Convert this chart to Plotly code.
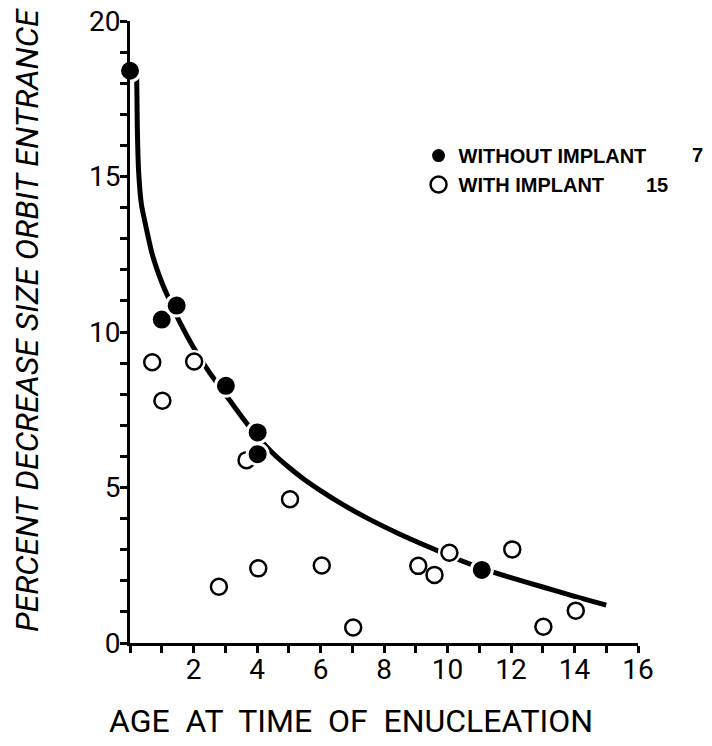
import plotly.graph_objects as go

# ---- data ----
without_x = [0.0, 1.0, 1.47, 3.02, 4.02, 4.02, 11.08]
without_y = [18.4, 10.4, 10.85, 8.27, 6.77, 6.07, 2.35]

with_x = [0.70, 1.02, 2.02, 3.67, 5.04, 2.80, 4.04, 6.04, 7.03, 9.08, 9.59, 10.06, 12.04, 13.02, 14.04]
with_y = [9.03, 7.79, 9.05, 5.88, 4.62, 1.81, 2.40, 2.49, 0.50, 2.48, 2.19, 2.90, 3.01, 0.52, 1.04]

curve_x = [0.21, 0.23, 0.27, 0.36, 0.50, 0.70, 1.00, 1.30, 1.60, 2.00, 2.50, 3.00, 3.50, 4.00,
           4.50, 5.00, 5.50, 6.00, 6.72, 7.50, 8.50, 9.50, 10.30, 11.08, 12.00, 13.00, 14.00, 15.00]
curve_y = [18.30, 16.60, 15.20, 14.10, 13.40, 12.50, 11.60, 10.90, 10.25, 9.50, 8.70, 8.00, 7.30, 6.65,
           6.10, 5.65, 5.25, 4.90, 4.44, 4.00, 3.50, 3.05, 2.70, 2.40, 2.10, 1.80, 1.50, 1.22]

x_ticks = list(range(0, 17))
x_ticktext = ["" if (v == 0 or v % 2) else str(v) for v in x_ticks]
y_ticks = list(range(0, 21))
y_ticktext = [str(v) if v % 5 == 0 else "" for v in y_ticks]

labels = ["WITHOUT IMPLANT", "WITH IMPLANT"]

FONT = "Roboto, Liberation Sans, Arial, sans-serif"
BOLD = "Liberation Sans, Arial, sans-serif"

fig = go.Figure()

fig.add_trace(go.Scatter(x=curve_x, y=curve_y, mode="lines",
                         line=dict(color="black", width=5, shape="spline", smoothing=0.6),
                         showlegend=False, hoverinfo="skip", cliponaxis=False))

# white halo behind open circles
fig.add_trace(go.Scatter(x=with_x, y=with_y, mode="markers",
                         marker=dict(size=23, color="white", line=dict(width=0)),
                         showlegend=False, hoverinfo="skip", cliponaxis=False))

fig.add_trace(go.Scatter(x=with_x, y=with_y, mode="markers", name=labels[1], legendrank=2,
                         marker=dict(size=16, color="white", symbol="circle",
                                     line=dict(color="black", width=2.5)),
                         cliponaxis=False))

fig.add_trace(go.Scatter(x=without_x, y=without_y, mode="markers", name=labels[0], legendrank=1,
                         marker=dict(size=21, color="black", symbol="circle",
                                     line=dict(color="white", width=3)),
                         cliponaxis=False))

axis_common = dict(showline=True, linecolor="black", linewidth=3, ticks="outside",
                   ticklen=7, tickwidth=2.5, tickcolor="black", showgrid=False,
                   zeroline=False, automargin=False,
                   tickfont=dict(family=FONT, size=28, color="black"))

fig.update_xaxes(range=[0, 16], tickvals=x_ticks, ticktext=x_ticktext,
                 ticklabelstandoff=-8, **axis_common)
fig.update_yaxes(range=[0, 20], tickvals=y_ticks, ticktext=y_ticktext,
                 ticklabelstandoff=-6, **axis_common)

fig.update_layout(
    width=712, height=746,
    margin=dict(l=130, r=74, t=21, b=103, autoexpand=False),
    plot_bgcolor="white", paper_bgcolor="white",
    showlegend=True,
    legend=dict(x=0.568, y=0.815, xanchor="left", yanchor="top",
                bgcolor="rgba(0,0,0,0)",
                font=dict(family=BOLD, size=20, color="black", weight="bold"),
                tracegroupgap=0, itemwidth=30),
    annotations=[
        dict(text="PERCENT DECREASE SIZE ORBIT ENTRANCE", xref="paper", yref="paper",
             x=(27 - 130) / 508, y=(643 - 320) / 622, xanchor="center", yanchor="middle",
             textangle=-90, showarrow=False,
             font=dict(family=FONT, size=32, color="black", style="italic")),
        dict(text="AGE  AT  TIME  OF  ENUCLEATION", xref="paper", yref="paper",
             x=(351 - 130) / 508, y=(643 - 721) / 622, xanchor="center", yanchor="middle",
             showarrow=False,
             font=dict(family=FONT, size=32, color="black")),
        dict(text=str(len(without_x)), xref="paper", yref="paper",
             x=(697 - 130) / 508, y=(643 - 155) / 622, xanchor="center", yanchor="middle",
             showarrow=False,
             font=dict(family=BOLD, size=20, color="black", weight="bold")),
        dict(text=str(len(with_x)), xref="paper", yref="paper",
             x=(657 - 130) / 508, y=(643 - 185) / 622, xanchor="center", yanchor="middle",
             showarrow=False,
             font=dict(family=BOLD, size=20, color="black", weight="bold")),
    ],
)

fig.write_html("out.html", post_script="document.body.style.margin='0';",
               config={"displayModeBar": False})
